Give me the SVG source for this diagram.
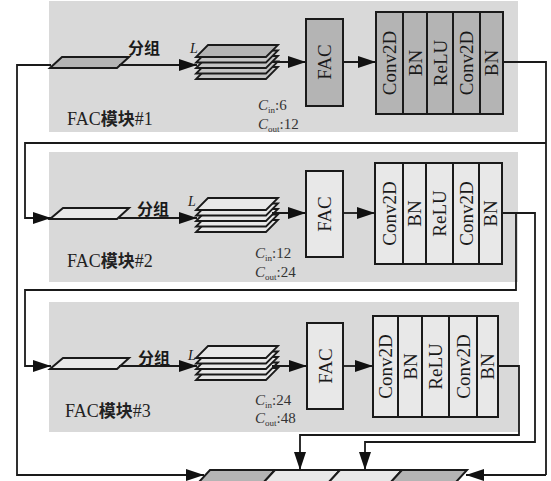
<svg xmlns="http://www.w3.org/2000/svg" width="551" height="481" viewBox="0 0 551 481">
<style>
.panel{fill:#d9d9d9;stroke:none}
.dark{fill:#b4b4b4}
.mid{fill:#c4c4c4}
.light{fill:#e8e8e8}
.box{stroke:#1a1a1a;stroke-width:2}
.plate{stroke:#1a1a1a;stroke-width:1.8}
.conn{fill:none;stroke:#1a1a1a;stroke-width:1.8}
.arr{marker-end:url(#ah)}
.rot{font-family:"Liberation Serif","Times New Roman",serif;font-size:19px;fill:#1a1a1a;text-anchor:middle;dominant-baseline:central}
.grp{font-family:"Noto Sans CJK SC",sans-serif;font-weight:bold;font-size:16px;fill:#1a1a1a}
.L{font-family:"Liberation Serif",serif;font-style:italic;font-size:14px;fill:#1a1a1a}
.ch{font-family:"Liberation Serif",serif;font-size:15px;fill:#333}
.ci{font-style:italic}
.lbl{font-family:"Liberation Serif","Noto Sans CJK SC",serif;font-size:18px;fill:#222}
.cjk{font-family:"Noto Sans CJK SC",sans-serif;font-weight:bold;font-size:17px}
</style>
<defs>
<marker id="ah" viewBox="0 0 18 12" refX="18" refY="6" markerWidth="18" markerHeight="12" orient="auto" markerUnits="userSpaceOnUse"><path d="M0,0 L18,6 L0,12 z" fill="#111"/></marker>
</defs>

<g id="panel1">
<rect class="panel" x="49" y="1" width="469" height="131"/>
<polygon class="box dark" points="62,57 129,57 117,68 50,68"/>
<text class="grp" x="128" y="54">分组</text>
<text class="L" x="190" y="53">L</text>
<g id="stack1">
<polygon class="plate mid" points="208,67 278,67 266,79 196,79"/>
<polygon class="plate mid" points="208,61.5 278,61.5 266,73.5 196,73.5"/>
<polygon class="plate mid" points="208,56 278,56 266,68 196,68"/>
<polygon class="plate mid" points="208,50.5 278,50.5 266,62.5 196,62.5"/>
<polygon class="plate dark" points="208,45 278,45 266,57 196,57"/>
</g>
<g id="fac1"><rect class="box dark" x="306" y="19" width="37" height="87"/><text class="rot" transform="translate(324.5,62) rotate(-90)">FAC</text></g>
<g id="conv1">
<rect class="box dark" x="376" y="12" width="127" height="102"/>
<path class="box" d="M403,12V114M427,12V114M453,12V114M480,12V114"/>
<text class="rot" transform="translate(389.5,63) rotate(-90)">Conv2D</text>
<text class="rot" transform="translate(415,63) rotate(-90)">BN</text>
<text class="rot" transform="translate(440,63) rotate(-90)">ReLU</text>
<text class="rot" transform="translate(466.5,63) rotate(-90)">Conv2D</text>
<text class="rot" transform="translate(491.5,63) rotate(-90)">BN</text>
</g>
<text class="ch" x="258" y="110"><tspan class="ci">C</tspan><tspan font-size="9" dy="3">in</tspan><tspan dy="-3">:6</tspan></text>
<text class="ch" x="258" y="129"><tspan class="ci">C</tspan><tspan font-size="9" dy="3">out</tspan><tspan dy="-3">:12</tspan></text>
<text class="lbl" x="67" y="125">FAC<tspan class="cjk">模块</tspan>#1</text>
</g>

<g id="panel2">
<rect class="panel" x="49" y="152" width="469" height="130"/>
<polygon class="box light" points="63,208 129,208 117,219 50,219"/>
<text class="grp" x="137" y="215">分组</text>
<text class="L" x="188" y="206">L</text>
<g id="stack2">
<polygon class="plate light" points="208,220 278,220 266,232 196,232"/>
<polygon class="plate light" points="208,214.5 278,214.5 266,226.5 196,226.5"/>
<polygon class="plate light" points="208,209 278,209 266,221 196,221"/>
<polygon class="plate light" points="208,203.5 278,203.5 266,215.5 196,215.5"/>
<polygon class="plate light" points="208,198 278,198 266,210 196,210"/>
</g>
<g id="fac2"><rect class="box light" x="306" y="171" width="37" height="86"/><text class="rot" transform="translate(324.5,214) rotate(-90)">FAC</text></g>
<g id="conv2">
<rect class="box light" x="375" y="163" width="127" height="101"/>
<path class="box" d="M403,163V264M426,163V264M453,163V264M479,163V264"/>
<text class="rot" transform="translate(389,213.5) rotate(-90)">Conv2D</text>
<text class="rot" transform="translate(414.5,213.5) rotate(-90)">BN</text>
<text class="rot" transform="translate(439.5,213.5) rotate(-90)">ReLU</text>
<text class="rot" transform="translate(466,213.5) rotate(-90)">Conv2D</text>
<text class="rot" transform="translate(490.5,213.5) rotate(-90)">BN</text>
</g>
<text class="ch" x="255" y="258"><tspan class="ci">C</tspan><tspan font-size="9" dy="3">in</tspan><tspan dy="-3">:12</tspan></text>
<text class="ch" x="255" y="277"><tspan class="ci">C</tspan><tspan font-size="9" dy="3">out</tspan><tspan dy="-3">:24</tspan></text>
<text class="lbl" x="67" y="267">FAC<tspan class="cjk">模块</tspan>#2</text>
</g>

<g id="panel3">
<rect class="panel" x="49" y="302" width="470" height="130"/>
<polygon class="box light" points="63,358 129,358 117,369 50,369"/>
<text class="grp" x="138" y="364">分组</text>
<text class="L" x="188" y="360">L</text>
<g id="stack3">
<polygon class="plate light" points="208,368 278,368 266,380 196,380"/>
<polygon class="plate light" points="208,362.5 278,362.5 266,374.5 196,374.5"/>
<polygon class="plate light" points="208,357 278,357 266,369 196,369"/>
<polygon class="plate light" points="208,351.5 278,351.5 266,363.5 196,363.5"/>
<polygon class="plate light" points="208,346 278,346 266,358 196,358"/>
</g>
<g id="fac3"><rect class="box light" x="307" y="323" width="36" height="86"/><text class="rot" transform="translate(325,366) rotate(-90)">FAC</text></g>
<g id="conv3">
<rect class="box light" x="373" y="316" width="125" height="101"/>
<path class="box" d="M398,316V417M422,316V417M449,316V417M477,316V417"/>
<text class="rot" transform="translate(385.5,366.5) rotate(-90)">Conv2D</text>
<text class="rot" transform="translate(410,366.5) rotate(-90)">BN</text>
<text class="rot" transform="translate(435.5,366.5) rotate(-90)">ReLU</text>
<text class="rot" transform="translate(463,366.5) rotate(-90)">Conv2D</text>
<text class="rot" transform="translate(487.5,366.5) rotate(-90)">BN</text>
</g>
<text class="ch" x="255" y="405"><tspan class="ci">C</tspan><tspan font-size="9" dy="3">in</tspan><tspan dy="-3">:24</tspan></text>
<text class="ch" x="255" y="423"><tspan class="ci">C</tspan><tspan font-size="9" dy="3">out</tspan><tspan dy="-3">:48</tspan></text>
<text class="lbl" x="65" y="417">FAC<tspan class="cjk">模块</tspan>#3</text>
</g>

<g id="output">
<polygon class="box dark" points="210,470 275,470 253,494 188,494"/>
<polygon class="box light" points="275,470 340,470 318,494 253,494"/>
<polygon class="box light" points="340,470 402,470 380,494 318,494"/>
<polygon class="box dark" points="402,470 467,470 445,494 380,494"/>
</g>

<g id="connectors">
<path class="conn arr" d="M119,65H197"/>
<path class="conn arr" d="M272,62H306"/>
<path class="conn arr" d="M343,62H376"/>
<path class="conn arr" d="M119,218H197"/>
<path class="conn arr" d="M272,213H306"/>
<path class="conn arr" d="M343,213H375"/>
<path class="conn arr" d="M119,366H197"/>
<path class="conn arr" d="M272,366H307"/>
<path class="conn arr" d="M343,366H373"/>
<path class="conn arr" d="M51,65H17V475H204"/>
<path class="conn" d="M503,62H546V475"/>
<path class="conn arr" d="M546,475H466"/>
<path class="conn arr" d="M546,143H25V218H51"/>
<path class="conn arr" d="M502,213H516V290H25V366H51"/>
<path class="conn arr" d="M516,213H535V442H365V470"/>
<path class="conn arr" d="M498,366H519V435H300V470"/>
</g>
</svg>
